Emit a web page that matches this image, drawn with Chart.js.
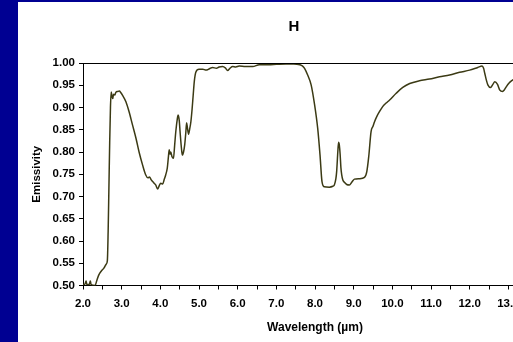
<!DOCTYPE html>
<html>
<head>
<meta charset="utf-8">
<script src="https://cdn.jsdelivr.net/npm/chart.js@4"></script>
<style>
  html, body { margin: 0; padding: 0; width: 513px; height: 342px; overflow: hidden; background: #ffffff; }
  #band { position: absolute; left: 0; top: 0; width: 18px; height: 342px; background: #000092; }
  #strip { position: absolute; left: 0; top: 0; width: 513px; height: 2px; background: #000092; }
  #c { position: absolute; left: 18px; top: 2px; }
</style>
</head>
<body>
<div id="band"></div>
<div id="strip"></div>
<canvas id="c" width="552" height="340"></canvas>
<script>
const chartTitle = "H";
const xTitle = "Wavelength (\u00b5m)";
const yTitle = "Emissivity";

const wavelength = [
  2.00, 2.05, 2.08, 2.10, 2.16, 2.19, 2.21, 2.31, 2.36, 2.41, 2.47, 2.54, 2.60, 2.63,
  2.65, 2.67, 2.69, 2.71, 2.73, 2.75, 2.77, 2.79, 2.82, 2.85, 2.90, 2.94, 2.98, 3.02,
  3.11, 3.19, 3.28, 3.37, 3.45, 3.54, 3.62, 3.68, 3.72, 3.76, 3.84, 3.88, 3.93, 3.97,
  4.01, 4.06, 4.10, 4.14, 4.18, 4.21, 4.23, 4.25, 4.27, 4.30, 4.34, 4.37, 4.40, 4.44,
  4.46, 4.49, 4.51, 4.55, 4.57, 4.60, 4.63, 4.66, 4.68, 4.70, 4.73, 4.76, 4.79, 4.82,
  4.85, 4.88, 4.92, 5.00, 5.10, 5.18, 5.27, 5.35, 5.45, 5.52, 5.61, 5.68, 5.74, 5.80,
  5.87, 5.95, 6.04, 6.20, 6.39, 6.56, 6.80, 7.00, 7.25, 7.45, 7.61, 7.68, 7.73, 7.81,
  7.90, 7.99, 8.07, 8.13, 8.18, 8.24, 8.37, 8.46, 8.50, 8.54, 8.56, 8.59, 8.61, 8.63,
  8.65, 8.67, 8.69, 8.72, 8.76, 8.82, 8.89, 8.95, 9.02, 9.15, 9.28, 9.34, 9.39, 9.45,
  9.50, 9.54, 9.60, 9.67, 9.75, 9.84, 9.93, 10.10, 10.27, 10.45, 10.70, 10.96, 11.22,
  11.48, 11.74, 12.00, 12.21, 12.32, 12.36, 12.39, 12.43, 12.47, 12.54, 12.60, 12.65,
  12.72, 12.78, 12.85, 12.90, 12.95, 13.02, 13.08, 13.15
];
const emissivity = [
  0.502, 0.503, 0.510, 0.502, 0.502, 0.510, 0.502, 0.500, 0.512, 0.524, 0.532, 0.539, 0.548, 0.556,
  0.620, 0.719, 0.820, 0.900, 0.935, 0.925, 0.920, 0.930, 0.928, 0.934, 0.936, 0.937, 0.933, 0.928,
  0.913, 0.891, 0.861, 0.831, 0.800, 0.771, 0.749, 0.742, 0.744, 0.738, 0.730, 0.726, 0.717, 0.724,
  0.730, 0.728, 0.738, 0.749, 0.764, 0.790, 0.805, 0.795, 0.800, 0.790, 0.786, 0.815, 0.846, 0.875,
  0.883, 0.870, 0.846, 0.805, 0.793, 0.800, 0.816, 0.845, 0.866, 0.855, 0.840, 0.852, 0.868, 0.895,
  0.928, 0.960, 0.980, 0.986, 0.986, 0.984, 0.987, 0.990, 0.988, 0.991, 0.992, 0.989, 0.983, 0.988,
  0.992, 0.991, 0.993, 0.992, 0.992, 0.996, 0.996, 0.997, 0.998, 0.998, 0.996, 0.993, 0.988, 0.973,
  0.951, 0.906, 0.853, 0.793, 0.734, 0.722, 0.721, 0.723, 0.726, 0.740, 0.756, 0.800, 0.822, 0.815,
  0.795, 0.765, 0.749, 0.737, 0.732, 0.727, 0.726, 0.732, 0.739, 0.740, 0.743, 0.756, 0.790, 0.846,
  0.858, 0.868, 0.880, 0.891, 0.902, 0.910, 0.917, 0.932, 0.945, 0.954, 0.960, 0.964, 0.969,
  0.973, 0.979, 0.984, 0.990, 0.993, 0.988, 0.977, 0.962, 0.951, 0.945, 0.952, 0.958,
  0.952, 0.939, 0.936, 0.940, 0.947, 0.955, 0.960, 0.964
];

const FONT = '"Liberation Sans", Arial, sans-serif';

const topBorder = {
  id: 'topBorder',
  afterDraw(chart) {
    const {ctx, chartArea} = chart;
    ctx.save();
    ctx.strokeStyle = '#000000';
    ctx.lineWidth = 1;
    ctx.beginPath();
    ctx.moveTo(chartArea.left, Math.round(chartArea.top) + 0.5);
    ctx.lineTo(chartArea.right, Math.round(chartArea.top) + 0.5);
    ctx.stroke();
    ctx.restore();
  }
};

new Chart(document.getElementById('c'), {
  type: 'line',
  data: {
    datasets: [{
      data: wavelength.map((w, i) => ({x: w, y: emissivity[i]})),
      borderColor: '#3b3a14',
      borderWidth: 1.5,
      pointRadius: 0,
      fill: false,
      cubicInterpolationMode: 'monotone'
    }]
  },
  options: {
    responsive: false,
    animation: false,
    layout: { padding: { left: 23, right: 23, top: 0, bottom: 0 } },
    plugins: {
      legend: { display: false },
      tooltip: { enabled: false },
      title: {
        display: true,
        text: chartTitle,
        color: '#000000',
        font: { family: FONT, size: 15, weight: 'bold', lineHeight: 1.2 },
        padding: { top: 16, bottom: 27 }
      }
    },
    scales: {
      x: {
        type: 'linear',
        min: 2,
        max: 14,
        afterFit(s) { s.height = 56.5; },
        ticks: {
          stepSize: 0.5,
          autoSkip: false,
          maxRotation: 0,
          color: '#000000',
          padding: 7,
          font: { family: FONT, size: 11.5, weight: 'bold' },
          callback: (v) => Number.isInteger(v) ? v.toFixed(1) : ''
        },
        grid: { drawOnChartArea: false, tickLength: 4, color: '#000000', lineWidth: 1 },
        border: { color: '#000000', width: 1 },
        title: {
          display: true,
          text: xTitle,
          color: '#000000',
          font: { family: FONT, size: 12, weight: 'bold', lineHeight: 1.2 },
          padding: { top: 0, bottom: 7 }
        }
      },
      y: {
        min: 0.5,
        max: 1.0,
        afterFit(s) { s.width = 42; },
        ticks: {
          stepSize: 0.05,
          color: '#000000',
          padding: 4,
          font: { family: FONT, size: 11.5, weight: 'bold' },
          callback: (v) => Number(v).toFixed(2)
        },
        grid: { drawOnChartArea: false, tickLength: 4, color: '#000000', lineWidth: 1 },
        border: { color: '#000000', width: 1 },
        title: {
          display: true,
          text: yTitle,
          color: '#000000',
          font: { family: FONT, size: 11.5, weight: 'bold', lineHeight: 1.2 },
          padding: { top: -10.9, bottom: 0 }
        }
      }
    }
  },
  plugins: [topBorder]
});
</script>
</body>
</html>
